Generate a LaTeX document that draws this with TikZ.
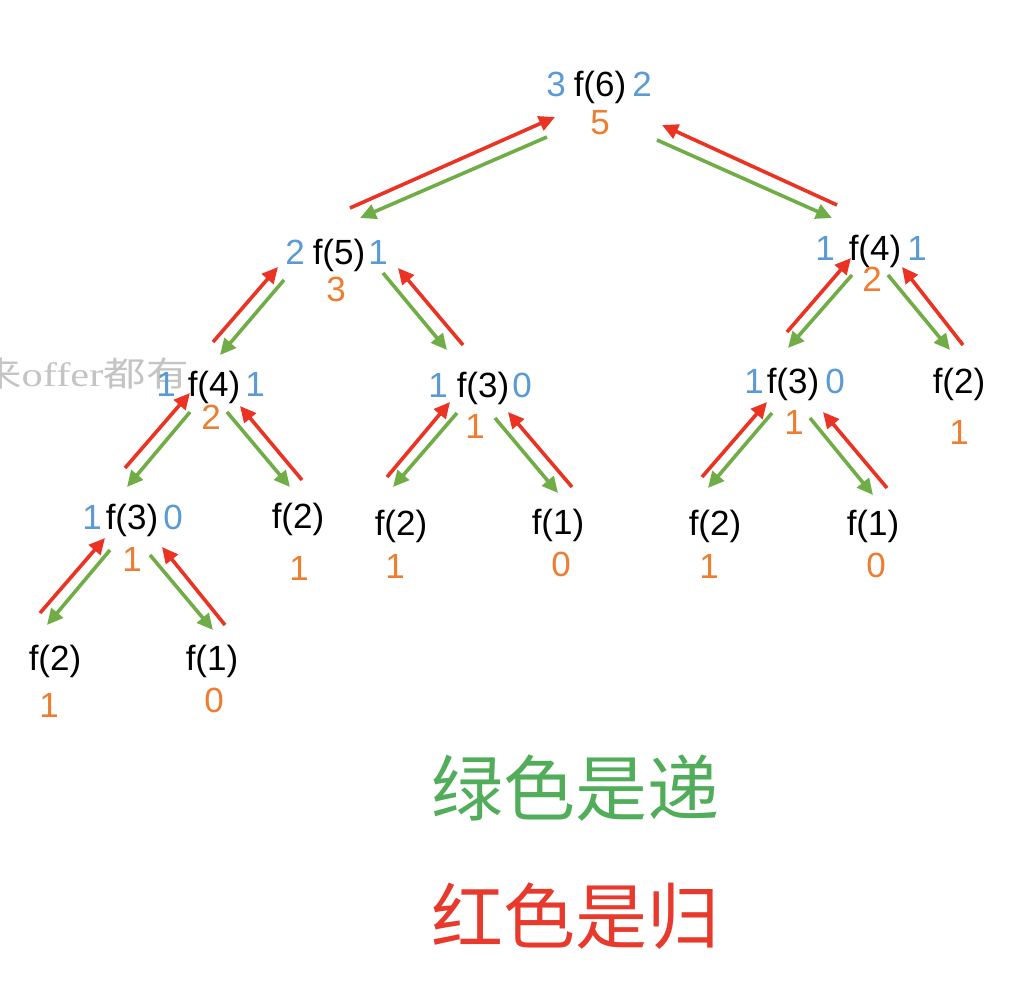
\documentclass[tikz,border=0pt]{standalone}
\usepackage{fontspec}
\setmainfont{Liberation Sans}
\newfontfamily\cjk{Noto Sans CJK SC}
\newfontfamily\wmserif{Liberation Serif}
\usetikzlibrary{arrows.meta}
\definecolor{cblue}{HTML}{5B9BD5}
\definecolor{corange}{HTML}{ED7D31}
\definecolor{cred}{HTML}{EA3323}
\definecolor{cgreen}{HTML}{70AD47}
\definecolor{tgreen}{HTML}{52AD5B}
\definecolor{tred}{HTML}{E83A2C}
\definecolor{wmgray}{HTML}{C4C4C4}
\tikzset{
  lbl/.style={font=\fontsize{35}{35}\selectfont, inner sep=0pt, anchor=base},
  fn/.style={lbl, text=black},
  cnt/.style={lbl, text=cblue},
  val/.style={lbl, text=corange},
  arr/.style={line width=3.6pt, -{Triangle[length=16pt,width=15pt]}},
  ret/.style={arr, draw=cred},
  call/.style={arr, draw=cgreen},
  legend/.style={font=\cjk\fontsize{72}{72}\selectfont, inner sep=0pt, anchor=base}
}
\begin{document}
\begin{tikzpicture}[x=1pt,y=-1pt]
\useasboundingbox[fill=white] (0,0) rectangle (1026,984);
% watermark
\node[anchor=base west, inner sep=0pt, text=wmgray] (wm) at (-21,387)
  {\scalebox{1.25}[1]{\fontsize{34}{34}\selectfont{\cjk 来}{\wmserif offer}{\cjk 都有}}};
% root f(6)
\node[fn]  (n6)  at (600,97) {f(6)};
\node[cnt] (n6a) at (556,97) {3};
\node[cnt] (n6b) at (642,97) {2};
\node[val] (n6v) at (600,135) {5};
% f(5)
\node[fn]  (n5)  at (339,265) {f(5)};
\node[cnt] (n5a) at (295,265) {2};
\node[cnt] (n5b) at (378,265) {1};
\node[val] (n5v) at (336,302) {3};
% f(4) right
\node[fn]  (n4r)  at (875,261) {f(4)};
\node[cnt] (n4ra) at (825,261) {1};
\node[cnt] (n4rb) at (917,261) {1};
\node[val] (n4rv) at (872,292) {2};
% f(4) left
\node[fn]  (n4l)  at (214,397) {f(4)};
\node[cnt] (n4la) at (166,397) {1};
\node[cnt] (n4lb) at (255,397) {1};
\node[val] (n4lv) at (211,429) {2};
% f(3) middle
\node[fn]  (n3m)  at (483,398) {f(3)};
\node[cnt] (n3ma) at (438,398) {1};
\node[cnt] (n3mb) at (522,398) {0};
\node[val] (n3mv) at (475,438) {1};
% f(3) right
\node[fn]  (n3r)  at (793,393) {f(3)};
\node[cnt] (n3ra) at (754,393) {1};
\node[cnt] (n3rb) at (835,393) {0};
\node[val] (n3rv) at (794,435) {1};
% f(2) right
\node[fn]  (n2r)  at (959,393) {f(2)};
\node[val] (n2rv) at (959,444) {1};
% f(3) lower left
\node[fn]  (n3l)  at (132,529) {f(3)};
\node[cnt] (n3la) at (92,529) {1};
\node[cnt] (n3lb) at (173,529) {0};
\node[val] (n3lv) at (132,571) {1};
% leaves
\node[fn]  (n2a)  at (298,528) {f(2)};
\node[val] (n2av) at (299,580) {1};
\node[fn]  (n2b)  at (401,535) {f(2)};
\node[val] (n2bv) at (395,578) {1};
\node[fn]  (n1b)  at (558,534) {f(1)};
\node[val] (n1bv) at (561,576) {0};
\node[fn]  (n2c)  at (715,535) {f(2)};
\node[val] (n2cv) at (709,578) {1};
\node[fn]  (n1c)  at (873,535) {f(1)};
\node[val] (n1cv) at (876,577) {0};
\node[fn]  (n2d)  at (55,670) {f(2)};
\node[val] (n2dv) at (49,717) {1};
\node[fn]  (n1d)  at (212,670) {f(1)};
\node[val] (n1dv) at (214,712) {0};
% arrow end points
\coordinate (r65a) at (350,208); \coordinate (r65b) at (555,117);
\coordinate (g65a) at (547,137); \coordinate (g65b) at (360,218);
\coordinate (r64a) at (837,205); \coordinate (r64b) at (662,125);
\coordinate (g64a) at (657,140); \coordinate (g64b) at (832,218);
\coordinate (r54a) at (213,342); \coordinate (r54b) at (278,267);
\coordinate (g54a) at (284,280); \coordinate (g54b) at (220,355);
\coordinate (g53a) at (383,273); \coordinate (g53b) at (447,350);
\coordinate (r53a) at (463,345); \coordinate (r53b) at (398,268);
\coordinate (r43a) at (787,332); \coordinate (r43b) at (851,258);
\coordinate (g43a) at (852,275); \coordinate (g43b) at (788,348);
\coordinate (g42a) at (888,275); \coordinate (g42b) at (950,350);
\coordinate (r42a) at (963,345); \coordinate (r42b) at (902,267);
\coordinate (r4la) at (125,468); \coordinate (r4lb) at (190,393);
\coordinate (g4la) at (190,412); \coordinate (g4lb) at (127,487);
\coordinate (g4ra) at (227,412); \coordinate (g4rb) at (290,487);
\coordinate (r4ra) at (302,480); \coordinate (r4rb) at (240,406);
\coordinate (rmla) at (387,477); \coordinate (rmlb) at (450,402);
\coordinate (gmla) at (457,413); \coordinate (gmlb) at (393,487);
\coordinate (gmra) at (495,418); \coordinate (gmrb) at (558,493);
\coordinate (rmra) at (572,487); \coordinate (rmrb) at (508,412);
\coordinate (rrla) at (702,477); \coordinate (rrlb) at (767,402);
\coordinate (grla) at (772,413); \coordinate (grlb) at (708,488);
\coordinate (grra) at (810,418); \coordinate (grrb) at (873,495);
\coordinate (rrra) at (887,488); \coordinate (rrrb) at (823,412);
\coordinate (rlla) at (40,613);  \coordinate (rllb) at (105,538);
\coordinate (glla) at (110,550); \coordinate (gllb) at (47,625);
\coordinate (glra) at (150,555); \coordinate (glrb) at (213,630);
\coordinate (rlra) at (225,625); \coordinate (rlrb) at (162,547);
% arrows
\draw[ret]  (r65a) -- (r65b);  \draw[call] (g65a) -- (g65b);
\draw[ret]  (r64a) -- (r64b);  \draw[call] (g64a) -- (g64b);
\draw[ret]  (r54a) -- (r54b);  \draw[call] (g54a) -- (g54b);
\draw[ret]  (r53a) -- (r53b);  \draw[call] (g53a) -- (g53b);
\draw[ret]  (r43a) -- (r43b);  \draw[call] (g43a) -- (g43b);
\draw[ret]  (r42a) -- (r42b);  \draw[call] (g42a) -- (g42b);
\draw[ret]  (r4la) -- (r4lb);  \draw[call] (g4la) -- (g4lb);
\draw[ret]  (r4ra) -- (r4rb);  \draw[call] (g4ra) -- (g4rb);
\draw[ret]  (rmla) -- (rmlb);  \draw[call] (gmla) -- (gmlb);
\draw[ret]  (rmra) -- (rmrb);  \draw[call] (gmra) -- (gmrb);
\draw[ret]  (rrla) -- (rrlb);  \draw[call] (grla) -- (grlb);
\draw[ret]  (rrra) -- (rrrb);  \draw[call] (grra) -- (grrb);
\draw[ret]  (rlla) -- (rllb);  \draw[call] (glla) -- (gllb);
\draw[ret]  (rlra) -- (rlrb);  \draw[call] (glra) -- (glrb);
% legend
\node[legend, text=tgreen] (lg1) at (575,815) {绿色是递};
\node[legend, text=tred]   (lg2) at (575,943) {红色是归};
\end{tikzpicture}
\end{document}
